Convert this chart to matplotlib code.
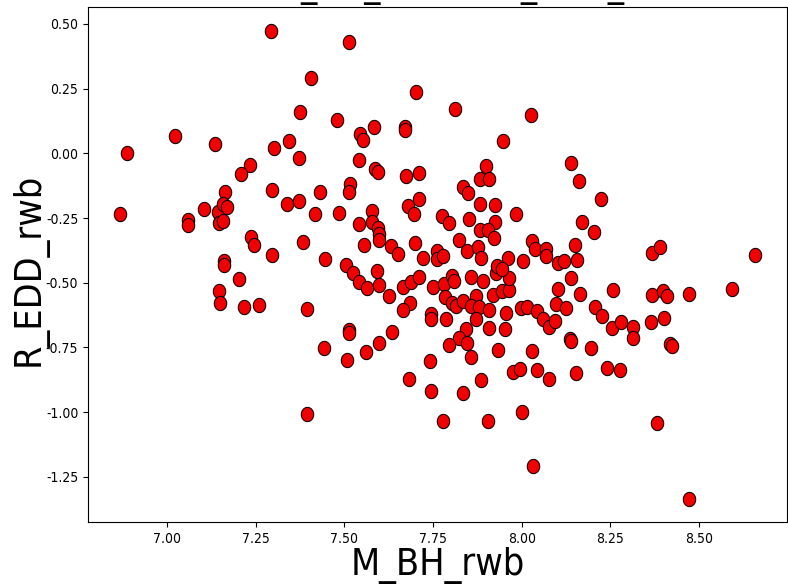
import numpy as np
import matplotlib
matplotlib.use("Agg")
import matplotlib.pyplot as plt
from matplotlib.path import Path
from matplotlib import font_manager

# Values
m_bh_rwb = [
    7.294, 7.514, 7.405, 7.702, 7.375, 7.478, 7.544, 7.552, 7.584, 7.671,
    7.671, 7.023, 7.134, 6.887, 7.303, 7.345, 7.372, 7.541, 7.235, 7.209,
    7.585, 7.594, 7.674, 7.711, 7.164, 7.297, 7.432, 7.516, 7.514, 7.711,
    6.867, 7.058, 7.058, 7.103, 7.145, 7.158, 7.169, 7.148, 7.158, 7.338,
    7.371, 7.418, 7.485, 7.577, 7.542, 7.577, 7.596, 7.598, 7.598, 7.678,
    7.697, 7.236, 7.244, 7.382, 7.555, 7.631, 7.652, 7.699, 7.297, 7.446,
    7.721, 7.161, 7.161, 7.204, 7.147, 7.150, 7.218, 7.259, 7.505, 7.525,
    7.542, 7.565, 7.591, 7.598, 7.627, 7.664, 7.687, 7.711, 7.685, 7.666,
    7.396, 7.514, 7.514, 7.444, 7.508, 7.561, 7.598, 7.635, 7.683, 7.394,
    7.740, 7.745, 7.751, 7.781, 7.783, 7.802, 7.808, 7.802, 7.816, 7.835,
    7.858, 7.891, 7.870, 7.856, 7.880, 7.870, 7.908, 7.918, 7.926, 7.943,
    7.964, 7.964, 7.955, 7.908, 7.953, 7.745, 7.745, 7.786, 7.843, 7.824,
    7.846, 7.795, 7.858, 7.934, 7.885, 7.835, 7.779, 7.905, 8.002, 7.997,
    8.015, 8.042, 8.060, 8.077, 8.094, 8.029, 7.974, 7.995, 8.044, 8.076,
    8.102, 8.138, 8.097, 8.124, 8.164, 8.135, 8.140, 8.196, 8.206, 8.225,
    8.256, 8.253, 8.279, 8.152, 8.241, 8.276, 7.762, 7.760, 7.777, 7.845,
    7.877, 7.885, 7.824, 7.962, 7.929, 7.943, 8.004, 8.030, 8.037, 8.068,
    8.068, 8.150, 8.102, 8.118, 8.156, 8.368, 8.389, 8.658, 8.368, 8.398,
    8.408, 8.471, 8.593, 8.363, 8.402, 8.419, 8.424, 8.313, 8.313, 8.032,
    8.381, 8.470, 7.812, 8.026, 7.946, 8.140, 8.162, 8.223, 7.899, 7.882,
    7.908, 7.835, 7.849, 7.882, 7.924, 7.774, 7.795, 7.852, 7.924, 7.882,
    7.905, 7.921, 7.985, 8.171, 8.203,
]
r_edd_rwb = [
    0.474, 0.429, 0.291, 0.236, 0.159, 0.130, 0.073, 0.051, 0.101, 0.102,
    0.089, 0.066, 0.037, 0.002, 0.021, 0.049, -0.016, -0.027, -0.046, -0.079,
    -0.060, -0.071, -0.088, -0.075, -0.150, -0.140, -0.149, -0.120, -0.149, -0.178,
    -0.234, -0.256, -0.277, -0.214, -0.227, -0.194, -0.207, -0.271, -0.262, -0.194,
    -0.185, -0.236, -0.230, -0.223, -0.272, -0.266, -0.288, -0.310, -0.333, -0.204,
    -0.236, -0.324, -0.355, -0.343, -0.355, -0.358, -0.387, -0.348, -0.394, -0.407,
    -0.403, -0.416, -0.432, -0.487, -0.532, -0.580, -0.592, -0.587, -0.432, -0.461,
    -0.497, -0.519, -0.455, -0.509, -0.551, -0.515, -0.496, -0.477, -0.577, -0.606,
    -0.600, -0.684, -0.694, -0.752, -0.798, -0.766, -0.734, -0.689, -0.873, -1.008,
    -0.802, -0.920, -0.515, -0.506, -0.554, -0.474, -0.494, -0.580, -0.590, -0.571,
    -0.477, -0.494, -0.551, -0.590, -0.592, -0.641, -0.606, -0.549, -0.461, -0.532,
    -0.528, -0.481, -0.618, -0.673, -0.677, -0.620, -0.640, -0.639, -0.680, -0.712,
    -0.731, -0.742, -0.785, -0.761, -0.876, -0.927, -1.036, -1.036, -0.999, -0.596,
    -0.592, -0.609, -0.639, -0.670, -0.648, -0.764, -0.843, -0.834, -0.837, -0.870,
    -0.526, -0.481, -0.584, -0.596, -0.545, -0.719, -0.725, -0.751, -0.592, -0.629,
    -0.528, -0.673, -0.650, -0.847, -0.831, -0.838, -0.378, -0.410, -0.397, -0.378,
    -0.361, -0.403, -0.333, -0.403, -0.436, -0.446, -0.416, -0.339, -0.371, -0.371,
    -0.397, -0.355, -0.423, -0.416, -0.413, -0.384, -0.361, -0.391, -0.549, -0.532,
    -0.551, -0.545, -0.523, -0.652, -0.638, -0.738, -0.744, -0.670, -0.712, -1.210,
    -1.040, -1.334, 0.173, 0.150, 0.047, -0.037, -0.108, -0.178, -0.050, -0.101,
    -0.101, -0.129, -0.153, -0.194, -0.201, -0.243, -0.271, -0.252, -0.266, -0.297,
    -0.297, -0.326, -0.234, -0.266, -0.303,
]
x_ticks = [7.00, 7.25, 7.50, 7.75, 8.00, 8.25, 8.50]
y_ticks = [0.50, 0.25, 0.00, -0.25, -0.50, -0.75, -1.00, -1.25]
x_label = "M_BH_rwb"
y_label = "R_EDD_rwb"
title = "M_BH_rwb vs R_EDD_rwb"

# the reference uses a narrow face; take a condensed one if the box has it
narrow = None
for f in font_manager.fontManager.ttflist:
    if "Narrow" in f.name or f.stretch in ("condensed", "semi-condensed"):
        if f.style == "normal" and f.weight in (400, "normal", "regular"):
            narrow = f
            break
if narrow is not None:
    plt.rcParams["font.family"] = [narrow.name, "DejaVu Sans"]
    plt.rcParams["font.stretch"] = narrow.stretch
    label_size, tick_size, title_size = 27, 10, 26
else:
    plt.rcParams["font.family"] = ["DejaVu Sans"]
    label_size, tick_size, title_size = 25, 9, 22.5

# slightly tall ellipse, the reference looks horizontally squeezed
t = np.linspace(0, 2 * np.pi, 60)
ellipse = Path(np.column_stack([0.87 * np.cos(t), np.sin(t)]), closed=True)

fig = plt.figure(figsize=(7.88, 5.84), dpi=100)
ax = fig.add_axes([0.1117, 0.1062, 0.887, 0.8813])

ax.scatter(m_bh_rwb, r_edd_rwb, s=105, marker=ellipse,
           facecolor="#f00000", edgecolor="#1a0000", linewidths=0.8)

ax.set_xticks(x_ticks)
ax.set_yticks(y_ticks)
ax.xaxis.set_major_formatter(plt.FormatStrFormatter("%.2f"))
ax.yaxis.set_major_formatter(plt.FormatStrFormatter("%.2f"))
ax.tick_params(labelsize=tick_size)
ax.set_xlabel(x_label, fontsize=label_size)
ax.set_ylabel(y_label, fontsize=label_size)
ax.xaxis.set_label_coords(0.5, -0.048)
ax.yaxis.set_label_coords(-0.058, 0.49)

# title sits mostly above the canvas; only its underscores show
fig.text(273 / 788, 1.0045, title, fontsize=title_size,
         ha="left", va="baseline")

fig.savefig("out.png", dpi=100)
